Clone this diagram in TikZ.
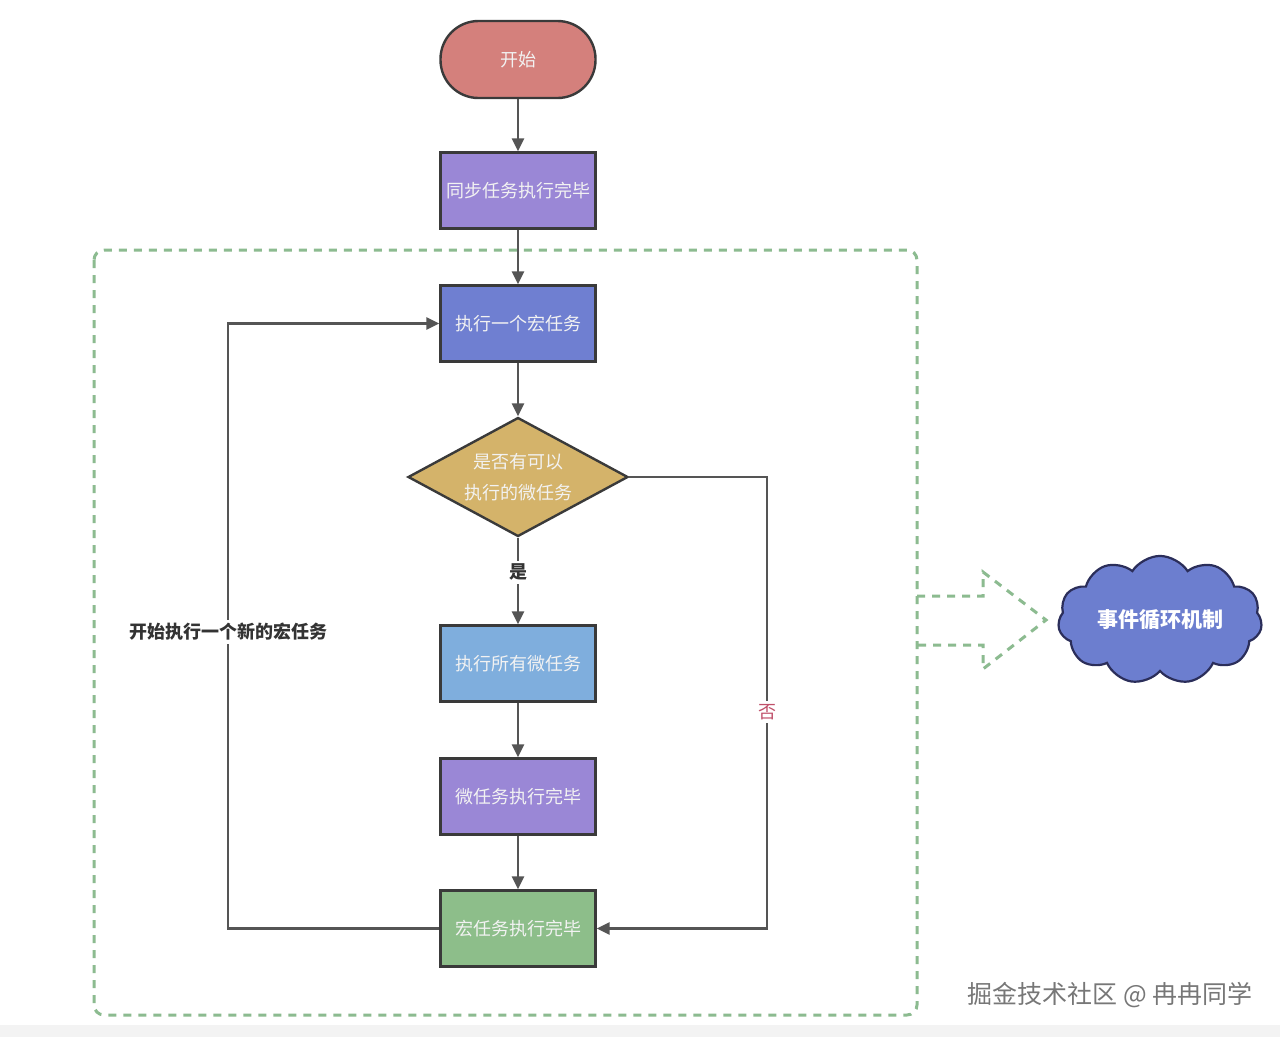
\documentclass[tikz,border=0pt]{standalone}
\usepackage{fontspec}
\setmainfont{Noto Sans CJK SC}
\usetikzlibrary{shapes.geometric,shapes.symbols,arrows.meta}
\definecolor{edgec}{HTML}{3A3A3A}
\definecolor{linec}{HTML}{555555}
\definecolor{startc}{HTML}{D4807C}
\definecolor{purplec}{HTML}{9A87D6}
\definecolor{bluevc}{HTML}{6F7FD1}
\definecolor{lightbc}{HTML}{7FAEDD}
\definecolor{greenc}{HTML}{8DBE8A}
\definecolor{tanc}{HTML}{D4B36A}
\definecolor{dashc}{HTML}{8CBB90}
\definecolor{cloudc}{HTML}{6C7ECF}
\definecolor{cloudedge}{HTML}{2B2E5A}
\definecolor{notxt}{HTML}{C0506A}
\definecolor{boxtxt}{HTML}{F2F2F2}
\definecolor{labtxt}{HTML}{333333}
\definecolor{wmark}{HTML}{777777}
\definecolor{bandc}{HTML}{F3F3F3}
\tikzset{
  box/.style={draw=edgec, line width=2.4pt, minimum width=155pt, minimum height=76pt,
    inner sep=0pt, text=boxtxt, font=\fontsize{18pt}{22pt}\selectfont},
  conn/.style={draw=linec, line width=2.6pt, -{Triangle[length=13pt,width=12pt]}},
  lab/.style={fill=white, inner sep=3pt, text=labtxt, font=\fontsize{18pt}{22pt}\selectfont\bfseries},
  dashline/.style={draw=dashc, line width=3pt, dash pattern=on 8pt off 7pt},
}
\begin{document}
\begin{tikzpicture}[x=1pt,y=-1pt]
\useasboundingbox (0,0) rectangle (1280,1037);
\fill[white] (0,0) rectangle (1280,1037);
\fill[bandc] (0,1025) rectangle (1280,1037);

% dashed frame
\draw[dashline, rounded corners=10pt] (94,250) rectangle (917,1015);

% nodes
\node[box, fill=startc, rounded corners=38pt, minimum height=77pt] (start) at (518,59.5) {开始};
\node[box, fill=purplec] (b1) at (518,190.5) {同步任务执行完毕};
\node[box, fill=bluevc] (b2) at (518,323.5) {执行一个宏任务};
\node[diamond, aspect=1.85, draw=edgec, line width=2.4pt, fill=tanc, minimum width=220pt,
  minimum height=119pt, inner sep=0pt, text=boxtxt, align=center,
  font=\fontsize{18pt}{31pt}\selectfont] (dia) at (518,477) {是否有可以\\执行的微任务};
\node[box, fill=lightbc] (b3) at (518,663.5) {执行所有微任务};
\node[box, fill=purplec] (b4) at (518,796.5) {微任务执行完毕};
\node[box, fill=greenc] (b5) at (518,928.5) {宏任务执行完毕};

\coordinate (ncol) at (767,700);
\coordinate (lcol) at (228,600);

% connectors
\draw[conn] (start) -- (b1);
\draw[conn] (b1) -- (b2);
\draw[conn] (b2) -- (dia);
\draw[conn] (dia.south) -- node[lab, pos=0.4] {是} (b3);
\draw[conn] (b3) -- (b4);
\draw[conn] (b4) -- (b5);
\draw[conn] (dia.east) -- (dia.east -| ncol) -- node[pos=0.52, fill=white, inner sep=3pt, text=notxt,
  font=\fontsize{18pt}{22pt}\selectfont] {否} (b5.east -| ncol) -- (b5.east);
\draw[conn] (b5.west) -- (b5.west -| lcol) -- node[lab, pos=0.49] {开始执行一个新的宏任务} (b2.west -| lcol) -- (b2.west);

% dashed block arrow
\draw[dashline] (917,596) -- (983,596) -- (983,572) -- (1046,620) -- (983,669) -- (983,645) -- (917,645);

% cloud
\node[cloud, cloud puffs=11, cloud puff arc=115, aspect=1.7, draw=cloudedge, line width=2.2pt,
  fill=cloudc, minimum width=204pt, minimum height=118pt, inner sep=0pt, text=white,
  font=\fontsize{21pt}{25pt}\selectfont\bfseries] (cloud) at (1160,620) {事件循环机制};

% watermark
\node[text=wmark, font=\fontsize{25pt}{30pt}\selectfont, inner sep=0pt] (wm) at (1110,995) {掘金技术社区 @ 冉冉同学};
\end{tikzpicture}
\end{document}
